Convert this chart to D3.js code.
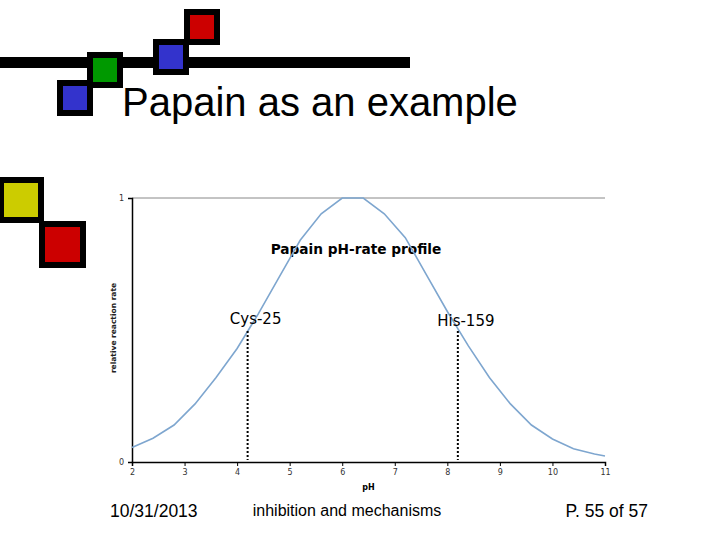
<!DOCTYPE html>
<html>
<head>
<meta charset="utf-8">
<script src="https://cdn.jsdelivr.net/npm/d3@7"></script>
<style>
  body { margin: 0; background: #fff; }
  svg { display: block; }
</style>
</head>
<body>
<svg width="720" height="540"></svg>
<script>
// chart data
const phValues = [2, 2.4, 2.8, 3.2, 3.6, 4.0, 4.4, 4.8, 5.2, 5.6, 6.0, 6.4,
  6.8, 7.2, 7.6, 8.0, 8.4, 8.8, 9.2, 9.6, 10.0, 10.4, 10.8, 11]
const rateValues = [0.055, 0.09, 0.14, 0.22, 0.32, 0.43, 0.56, 0.70, 0.84, 0.94, 1.0, 1.0,
  0.94, 0.85, 0.71, 0.57, 0.44, 0.32, 0.22, 0.14, 0.087, 0.05, 0.03, 0.023]
const xTicks = [2, 3, 4, 5, 6, 7, 8, 9, 10, 11]
const yTicks = [0, 1]
const markerNames = ["Cys-25", "His-159"]
const markerPH = [4.2, 8.2]

let svg = d3.select("svg")

// slide decoration
let deco = svg.append("g")

deco.append("rect")
  .attr("x", 0).attr("y", 57)
  .attr("width", 410).attr("height", 11)
  .style("fill", "black")

let squares = [
  [57, 80, 36, "#3333cc"],
  [87, 52, 36, "#009900"],
  [153, 39, 36, "#3333cc"],
  [184, 9, 36, "#cc0000"],
  [-2, 177, 46, "#cccc00"],
  [39, 221, 47, "#cc0000"]
]
squares.forEach(s => {
  let bw = 6
  deco.append("rect")
    .attr("x", s[0]).attr("y", s[1])
    .attr("width", s[2]).attr("height", s[2])
    .style("fill", "black")
  deco.append("rect")
    .attr("x", s[0] + bw).attr("y", s[1] + bw)
    .attr("width", s[2] - 2 * bw).attr("height", s[2] - 2 * bw)
    .style("fill", s[3])
})

svg.append("text")
  .attr("x", 122).attr("y", 116)
  .style("font-family", "'Liberation Sans', Arial, sans-serif")
  .style("font-size", "40px")
  .text("Papain as an example")

// footer
let footer = svg.append("g")
  .style("font-family", "'Liberation Sans', Arial, sans-serif")
footer.append("text").attr("x", 110).attr("y", 517)
  .style("font-size", "17.5px").text("10/31/2013")
footer.append("text").attr("x", 347).attr("y", 516)
  .attr("text-anchor", "middle")
  .style("font-size", "16px").text("inhibition and mechanisms")
footer.append("text").attr("x", 648).attr("y", 517)
  .attr("text-anchor", "end")
  .style("font-size", "17.5px").text("P. 55 of 57")

// the chart
let x = d3.scaleLinear().domain([2, 11]).range([132, 605])
let y = d3.scaleLinear().domain([0, 1]).range([462, 198])

let chart = svg.append("g")
  .style("font-family", "'DejaVu Sans', Verdana, sans-serif")

// top border
chart.append("line")
  .attr("x1", x(2)).attr("x2", x(11))
  .attr("y1", y(1)).attr("y2", y(1))
  .style("stroke", "#888")
  .style("stroke-width", 1)

let xAxis = chart.append("g")
  .attr("transform", `translate(0,${y(0)})`)
  .call(d3.axisBottom(x).tickValues(xTicks).tickSize(4).tickFormat(d3.format("d")))
xAxis.select(".domain").style("stroke", "black").style("stroke-width", 1.5)
xAxis.selectAll("text")
  .style("font-family", "'DejaVu Sans', Verdana, sans-serif")
  .style("font-size", "8px")
  .style("fill", "#333")
  .attr("y", 7)

let yAxis = chart.append("g")
  .attr("transform", `translate(${x(2)},0)`)
  .call(d3.axisLeft(y).tickValues(yTicks).tickSize(4).tickFormat(d3.format("d")))
yAxis.select(".domain").style("stroke", "black").style("stroke-width", 1.5)
yAxis.selectAll("text")
  .style("font-family", "'DejaVu Sans', Verdana, sans-serif")
  .style("font-size", "8px")
  .style("fill", "#333")
  .attr("x", -8)

chart.append("text")
  .attr("x", (x(2) + x(11)) / 2).attr("y", 490)
  .attr("text-anchor", "middle")
  .style("font-size", "8px").style("font-weight", "bold")
  .text("pH")

chart.append("text")
  .attr("transform", `translate(116,${(y(0) + y(1)) / 2 - 2}) rotate(-90)`)
  .attr("text-anchor", "middle")
  .style("font-size", "7.5px").style("font-weight", "bold")
  .style("fill", "#222")
  .text("relative reaction rate")

chart.append("text")
  .attr("x", 356).attr("y", 254)
  .attr("text-anchor", "middle")
  .style("font-size", "13.7px").style("font-weight", "bold")
  .text("Papain pH-rate profile")

// curve
let line = d3.line()
  .x((d, i) => x(phValues[i]))
  .y(d => y(d))

chart.append("path")
  .datum(rateValues)
  .attr("d", line)
  .style("fill", "none")
  .style("stroke", "#7ea6cf")
  .style("stroke-width", 1.6)

// pKa markers
markerPH.forEach((p, i) => {
  chart.append("line")
    .attr("x1", x(p)).attr("x2", x(p))
    .attr("y1", 331).attr("y2", y(0) - 2)
    .style("stroke", "black")
    .style("stroke-width", 2)
    .style("stroke-dasharray", "2,2")
  chart.append("text")
    .attr("x", x(p) + 8).attr("y", 324 + i * 2)
    .attr("text-anchor", "middle")
    .style("font-size", "15px")
    .text(markerNames[i])
})
</script>
</body>
</html>
